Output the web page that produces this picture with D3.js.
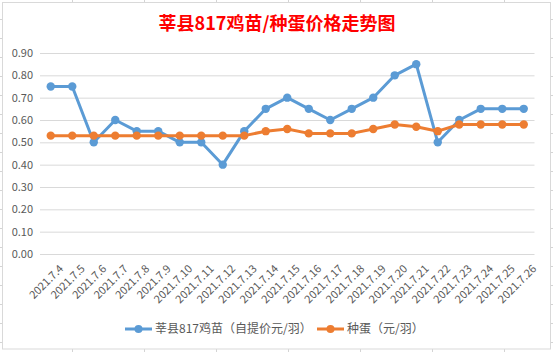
<!DOCTYPE html>
<html><head><meta charset="utf-8">
<script src="https://cdn.jsdelivr.net/npm/d3@7"></script>
<style>body{margin:0;background:#fff;}svg{display:block;}</style>
</head><body>
<svg id="c" width="553" height="352"></svg>
<script>
const categories = ["2021.7.4","2021.7.5","2021.7.6","2021.7.7","2021.7.8","2021.7.9","2021.7.10","2021.7.11","2021.7.12","2021.7.13","2021.7.14","2021.7.15","2021.7.16","2021.7.17","2021.7.18","2021.7.19","2021.7.20","2021.7.21","2021.7.22","2021.7.23","2021.7.24","2021.7.25","2021.7.26"];
const chickValues = [0.75,0.75,0.50,0.60,0.55,0.55,0.50,0.50,0.40,0.55,0.65,0.70,0.65,0.60,0.65,0.70,0.80,0.85,0.50,0.60,0.65,0.65,0.65];
const eggValues = [0.53,0.53,0.53,0.53,0.53,0.53,0.53,0.53,0.53,0.53,0.55,0.56,0.54,0.54,0.54,0.56,0.58,0.57,0.55,0.58,0.58,0.58,0.58];
const yTicks = [0,0.1,0.2,0.3,0.4,0.5,0.6,0.7,0.8,0.9];
const seriesNames = ["莘县817鸡苗（自提价元/羽）","种蛋（元/羽）"];
const title = "莘县817鸡苗/种蛋价格走势图";

const svg = d3.select("#c");
const W = 553, H = 352;
const FONT = "'Noto Sans CJK SC', 'Noto Sans', sans-serif";

// spreadsheet background grid
const bg = svg.append("g");
for (let x = 72; x < W; x += 72) bg.append("line").attr("x1", x+0.5).attr("x2", x+0.5).attr("y1", 0).attr("y2", H).attr("stroke", "#d4d4d4");
for (let y = 19; y < H; y += 19) bg.append("line").attr("x1", 0).attr("x2", W).attr("y1", y+0.5).attr("y2", y+0.5).attr("stroke", "#d4d4d4");

// chart area
svg.append("rect").attr("x", 2.5).attr("y", 2.5).attr("width", 548).attr("height", 346.5)
  .attr("fill", "#fff").attr("stroke", "#d9d9d9");

svg.append("text").attr("x", 277).attr("y", 30).attr("text-anchor", "middle")
  .attr("font-family", FONT).attr("font-weight", "bold").attr("font-size", 18).attr("fill", "#ff0000").text(title);

const x = d3.scaleBand().domain(categories).range([40, 534.5]);
const y = d3.scaleLinear().domain([0, 0.9]).range([254, 53]);

const yAxis = d3.axisLeft(y).tickValues(yTicks).tickFormat(d3.format(".2f")).tickSize(-(534.5-40)).tickPadding(7);
const gy = svg.append("g").attr("transform", "translate(40,0)").call(yAxis);
gy.select(".domain").remove();
gy.selectAll(".tick line").attr("stroke", "#d9d9d9");
gy.selectAll(".tick text").attr("font-family", FONT).attr("font-size", 11).attr("fill", "#595959");

const xAxis = d3.axisBottom(x).tickSize(0).tickPadding(0);
const gx = svg.append("g").attr("transform", "translate(0,254)").call(xAxis);
gx.select(".domain").remove();
gx.selectAll(".tick text").attr("font-family", FONT).attr("font-size", 11).attr("fill", "#595959")
  .attr("text-anchor", "end").attr("dy", null)
  .attr("transform", "translate(6,8) rotate(-45)")
  .attr("y", 0).attr("x", 0).attr("dominant-baseline", "hanging");

const cx = d => x(d) + x.bandwidth()/2;
const series = [
  {vals: chickValues, color: "#5b9bd5"},
  {vals: eggValues, color: "#ed7d31"}
];
// draw orange first? Blue line appears under orange at crossings; draw blue first
series.forEach(s => {
  const line = d3.line().x((d,i) => cx(categories[i])).y(d => y(d));
  svg.append("path").datum(s.vals).attr("d", line).attr("fill", "none")
    .attr("stroke", s.color).attr("stroke-width", 3).attr("stroke-linejoin", "round");
  svg.append("g").selectAll("circle").data(s.vals).join("circle")
    .attr("cx", (d,i) => cx(categories[i])).attr("cy", d => y(d)).attr("r", 4.2).attr("fill", s.color);
});

// legend
const legend = [
  {x: 125, color: "#5b9bd5", name: seriesNames[0]},
  {x: 317, color: "#ed7d31", name: seriesNames[1]}
];
legend.forEach(l => {
  const g = svg.append("g");
  g.append("line").attr("x1", l.x).attr("x2", l.x+27).attr("y1", 329).attr("y2", 329).attr("stroke", l.color).attr("stroke-width", 3);
  g.append("circle").attr("cx", l.x+13.5).attr("cy", 329).attr("r", 4).attr("fill", l.color);
  g.append("text").attr("x", l.x+30).attr("y", 333).attr("font-family", FONT).attr("font-size", 12).attr("fill", "#595959").text(l.name);
});
</script>
</body></html>
